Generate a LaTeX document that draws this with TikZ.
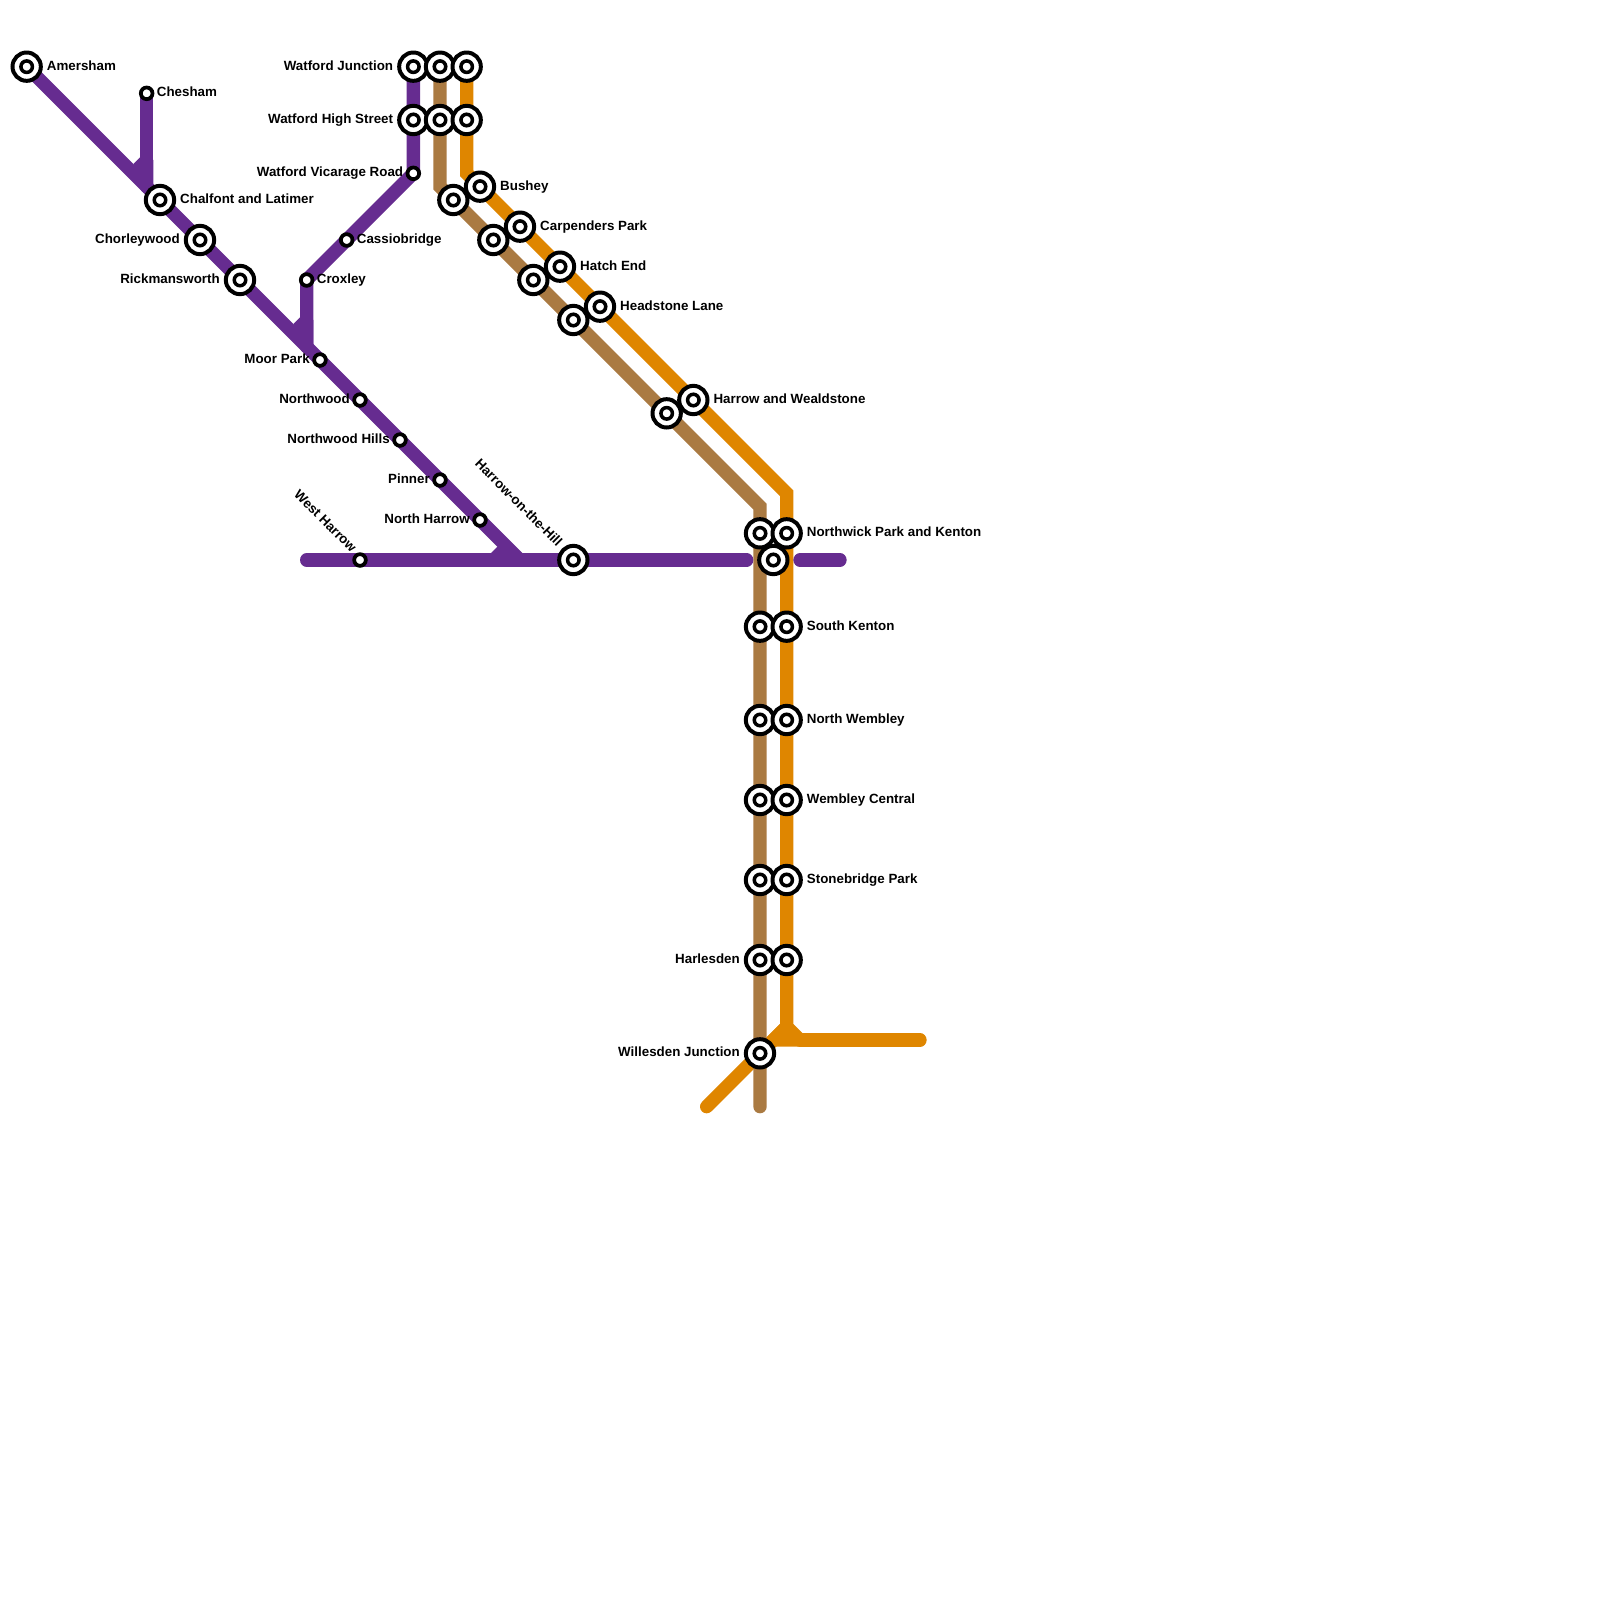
\documentclass[tikz,border=0pt]{standalone}
\usepackage{fontspec}
\setmainfont{Liberation Sans}
\usetikzlibrary{backgrounds}
\definecolor{metropurple}{HTML}{662C90}
\definecolor{metrobrown}{HTML}{AA7A42}
\definecolor{metroorange}{HTML}{DF8600}
\tikzset{
  bigstn/.style={circle, draw=black, fill=white, line width=3.4pt, inner sep=0pt, minimum size=.85cm,
    path picture={\draw[line width=3pt] (path picture bounding box.center) circle (.1725cm);}},
  smallstn/.style={circle, draw=black, fill=white, line width=3.2pt, inner sep=0pt, minimum size=.35cm},
  stnlabel/.style={inner sep=0pt, font=\fontsize{11.4}{13}\selectfont\bfseries},
  bigright/.style={stnlabel, anchor=base west, xshift=.6cm, yshift=-.1cm},
  bigleft/.style={stnlabel, anchor=base east, xshift=-.6cm, yshift=-.1cm},
  smallright/.style={stnlabel, anchor=base west, xshift=.3cm, yshift=-.1cm},
  smallleft/.style={stnlabel, anchor=base east, xshift=-.3cm, yshift=-.1cm},
  metroline/.style={line width=.4cm, line cap=round}
}
\begin{document}
\begin{tikzpicture}[x=.4cm, y=-.4cm]
  \useasboundingbox (0,0) rectangle (120,120);

  % Interchange stations
  \foreach \name/\x/\y in {amersham/2/5, chalfont/12/15, chorleywood/15/18, rickmansworth/18/21,
      watjunc/31/5, watjuncb/33/5, watjunco/35/5, wathigh/31/9, wathighb/33/9, wathigho/35/9,
      bushey/36/14, busheyb/34/15, carpenders/39/17, carpendersb/37/18, hatchend/42/20, hatchendb/40/21,
      headstone/45/23, headstoneb/43/24, wealdstone/52/30, wealdstoneb/50/31, harrowhill/43/42,
      northwickb/57/40, northwick/59/40, northwickp/58/42, skentonb/57/47, skenton/59/47,
      nwembleyb/57/54, nwembley/59/54, wembleyb/57/60, wembley/59/60, stonebridgeb/57/66, stonebridge/59/66,
      harlesden/57/72, harlesdeno/59/72, willesden/57/79}
    \node[bigstn] (\name) at (\x,\y) {};

  % Ordinary stations
  \foreach \name/\x/\y in {chesham/11/7, cassiobridge/26/18, croxley/23/21, vicarage/31/13, moorpark/24/27,
      northwood/27/30, nwoodhills/30/33, pinner/33/36, nharrow/36/39, wharrow/27/42}
    \node[smallstn] (\name) at (\x,\y) {};

  % Bends and line ends
  \foreach \name/\x/\y in {cheshamjn/11/14, croxleyjn/23/26, harrowjn/39/42, wharrowend/23/42, eastend/56/42,
      kentonwest/60/42, kentoneast/63/42, brownbenda/33/14, brownbendb/57/38, brownend/57/83,
      orangebenda/35/13, orangebendb/59/37, orangejn/59/77, orangediag/58/78, orangeend/53/83,
      orangeright/60/78, orangeeast/69/78}
    \coordinate (\name) at (\x,\y);

  % Station names on the right
  \node[bigright] (amersham lbl) at (amersham) {Amersham};
  \node[bigright] (chalfont lbl) at (chalfont) {Chalfont and Latimer};
  \node[bigright] (bushey lbl) at (bushey) {Bushey};
  \node[bigright] (carpenders lbl) at (carpenders) {Carpenders Park};
  \node[bigright] (hatchend lbl) at (hatchend) {Hatch End};
  \node[bigright] (headstone lbl) at (headstone) {Headstone Lane};
  \node[bigright] (wealdstone lbl) at (wealdstone) {Harrow and Wealdstone};
  \node[bigright] (northwick lbl) at (northwick) {Northwick Park and Kenton};
  \node[bigright] (skenton lbl) at (skenton) {South Kenton};
  \node[bigright] (nwembley lbl) at (nwembley) {North Wembley};
  \node[bigright] (wembley lbl) at (wembley) {Wembley Central};
  \node[bigright] (stonebridge lbl) at (stonebridge) {Stonebridge Park};
  \node[smallright] (chesham lbl) at (chesham) {Chesham};
  \node[smallright] (cassiobridge lbl) at (cassiobridge) {Cassiobridge};
  \node[smallright] (croxley lbl) at (croxley) {Croxley};

  % Station names on the left
  \node[bigleft] (chorleywood lbl) at (chorleywood) {Chorleywood};
  \node[bigleft] (rickmansworth lbl) at (rickmansworth) {Rickmansworth};
  \node[bigleft] (watjunc lbl) at (watjunc) {Watford Junction};
  \node[bigleft] (wathigh lbl) at (wathigh) {Watford High Street};
  \node[bigleft] (harlesden lbl) at (harlesden) {Harlesden};
  \node[bigleft] (willesden lbl) at (willesden) {Willesden Junction};
  \node[smallleft] (vicarage lbl) at (vicarage) {Watford Vicarage Road};
  \node[smallleft] (moorpark lbl) at (moorpark) {Moor Park};
  \node[smallleft] (northwood lbl) at (northwood) {Northwood};
  \node[smallleft] (nwoodhills lbl) at (nwoodhills) {Northwood Hills};
  \node[smallleft] (pinner lbl) at (pinner) {Pinner};
  \node[smallleft] (nharrow lbl) at (nharrow) {North Harrow};

  % Slanted names
  \node[stnlabel, xshift=-.17cm, yshift=.30cm, rotate=-45, anchor=east] (wharrow lbl) at (wharrow) {West Harrow};
  \node[stnlabel, xshift=-.39cm, yshift=.48cm, rotate=-45, anchor=east] (harrowhill lbl) at (harrowhill) {Harrow-on-the-Hill};

  \begin{scope}[on background layer]
    % Orange line
    \draw[metroline, metroorange] (watjunco.center) -- (wathigho.center) -- (orangebenda) -- (bushey.center)
      -- (orangebendb) -- (orangejn) -- (orangediag) -- (orangeend);
    \draw[metroline, metroorange] (orangeright) -- (orangeeast);
    \fill[metroorange] (58.5,76.8) -- (59.5,76.8) -- (60.2,77.5) -- (60.2,78.5) -- (57.6,78.5) -- (57.5,77.8) -- cycle;

    % Brown line
    \draw[metroline, metrobrown] (watjuncb.center) -- (wathighb.center) -- (brownbenda) -- (busheyb.center)
      -- (brownbendb) -- (willesden.center) -- (brownend);

    % Purple line
    \draw[metroline, metropurple] (amersham.center) -- (chalfont.center) -- (harrowjn);
    \draw[metroline, metropurple] (chesham.center) -- (cheshamjn);
    \draw[metroline, metropurple] (watjunc.center) -- (vicarage.center) -- (croxley.center) -- (croxleyjn);
    \draw[metroline, metropurple] (wharrowend) -- (eastend);
    \draw[metroline, metropurple] (kentonwest) -- (kentoneast);
    \fill[metropurple] (10.5,11.8) -- (10,12.3) -- (11,14) -- (11.5,14.5) -- (11.5,12) -- cycle;
    \fill[metropurple] (22.5,23.8) -- (22,24.3) -- (23,26) -- (23.5,26.5) -- (23.5,24) -- cycle;
    \fill[metropurple] (37.3,41) -- (36.8,41.5) -- (37,42) -- (39,42) -- (38,41) -- cycle;
  \end{scope}
\end{tikzpicture}
\end{document}
